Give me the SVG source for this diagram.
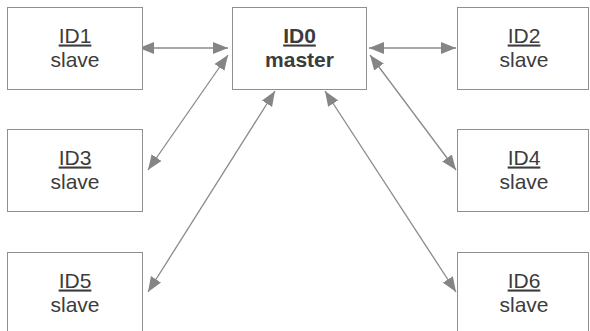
<svg xmlns="http://www.w3.org/2000/svg" width="590" height="331" viewBox="0 0 590 331">
  <style>
    .box { fill: #ffffff; stroke: #8f8f8f; stroke-width: 1; }
    .t { font-family: "Liberation Sans", Arial, sans-serif; font-size: 21px; fill: #3c3c3c; text-anchor: middle; }
    .u { text-decoration: underline; }
    .b { font-weight: bold; }
    .conn { stroke: #8a8a8a; stroke-width: 1.3; fill: none; marker-start: url(#ah); marker-end: url(#ah); }
  </style>
  <defs>
    <marker id="ah" markerUnits="userSpaceOnUse" markerWidth="16" markerHeight="13" refX="15" refY="6.5" orient="auto-start-reverse">
      <path d="M0,0.5 L15,6.5 L0,12.5 Z" fill="#858585"/>
    </marker>
  </defs>
  <rect width="590" height="331" fill="#ffffff"/>

  <g id="connectors">
    <line class="conn" x1="139" y1="48" x2="228" y2="48"/>
    <line class="conn" x1="369" y1="48" x2="456" y2="48"/>
    <line class="conn" x1="228" y1="55" x2="148" y2="170"/>
    <line class="conn" x1="370" y1="55" x2="456" y2="170"/>
    <line class="conn" x1="275" y1="91" x2="148" y2="292"/>
    <line class="conn" x1="325" y1="91" x2="456" y2="292"/>
  </g>

  <g id="ID0">
    <rect class="box" x="232.5" y="7.5" width="134" height="82"/>
    <text class="t b u" x="299.5" y="42.5">ID0</text>
    <text class="t b" x="299.5" y="66.5">master</text>
  </g>
  <g id="ID1">
    <rect class="box" x="7.5" y="7.5" width="135" height="82"/>
    <text class="t u" x="75" y="42.5">ID1</text>
    <text class="t" x="75" y="66.5">slave</text>
  </g>
  <g id="ID2">
    <rect class="box" x="457.5" y="7.5" width="131" height="82"/>
    <text class="t u" x="524" y="42.5">ID2</text>
    <text class="t" x="524" y="66.5">slave</text>
  </g>
  <g id="ID3">
    <rect class="box" x="7.5" y="129.5" width="135" height="82"/>
    <text class="t u" x="75" y="164.5">ID3</text>
    <text class="t" x="75" y="188.5">slave</text>
  </g>
  <g id="ID4">
    <rect class="box" x="457.5" y="129.5" width="131" height="82"/>
    <text class="t u" x="524" y="164.5">ID4</text>
    <text class="t" x="524" y="188.5">slave</text>
  </g>
  <g id="ID5">
    <rect class="box" x="7.5" y="252.5" width="135" height="82"/>
    <text class="t u" x="75" y="287.5">ID5</text>
    <text class="t" x="75" y="311.5">slave</text>
  </g>
  <g id="ID6">
    <rect class="box" x="457.5" y="252.5" width="131" height="82"/>
    <text class="t u" x="524" y="287.5">ID6</text>
    <text class="t" x="524" y="311.5">slave</text>
  </g>
</svg>
